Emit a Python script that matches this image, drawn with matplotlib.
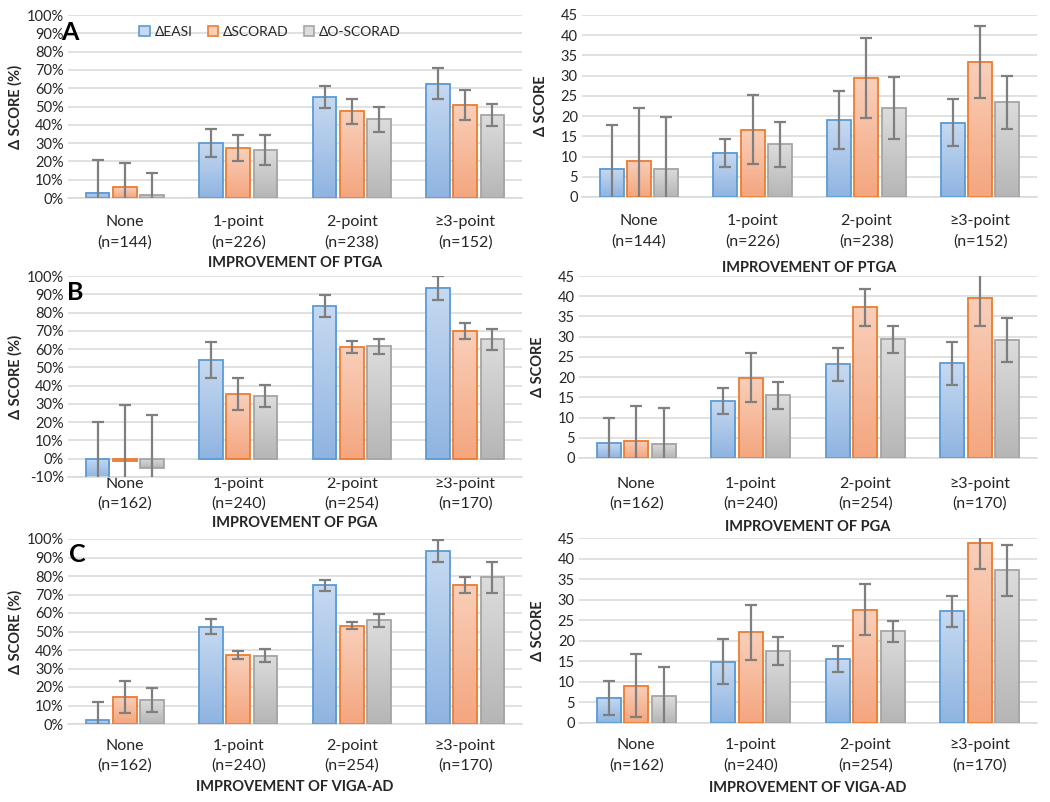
import numpy as np
import matplotlib
matplotlib.use("Agg")
import matplotlib.pyplot as plt
from matplotlib.patches import Patch
from matplotlib.colors import LinearSegmentedColormap

plt.rcParams['font.family'] = ['Lato', 'DejaVu Sans']

# ---- data ----
categories = ["None", "1-point", "2-point", "\u22653-point"]
n_ptga = [144, 226, 238, 152]
n_pga = [162, 240, 254, 170]
n_viga = [162, 240, 254, 170]
series_names = ["\u0394EASI", "\u0394SCORAD", "\u0394O-SCORAD"]

# A: PTGA, percent change
a_pct_easi = [3.0, 30.0, 55.0, 62.5]
a_pct_easi_err = [17.5, 7.8, 6.0, 8.5]
a_pct_scorad = [6.0, 27.2, 47.4, 50.9]
a_pct_scorad_err = [13.0, 7.2, 6.8, 8.2]
a_pct_oscorad = [1.8, 26.1, 42.9, 45.3]
a_pct_oscorad_err = [12.1, 8.1, 6.7, 5.9]

# A: PTGA, absolute change
a_abs_easi = [7.0, 10.9, 19.0, 18.4]
a_abs_easi_err = [10.7, 3.4, 7.2, 5.8]
a_abs_scorad = [9.0, 16.6, 29.4, 33.4]
a_abs_scorad_err = [12.9, 8.5, 9.8, 8.9]
a_abs_oscorad = [7.0, 13.0, 22.0, 23.4]
a_abs_oscorad_err = [12.7, 5.5, 7.6, 6.5]

# B: PGA, percent change
b_pct_easi = [-10.3, 53.9, 83.4, 93.6]
b_pct_easi_err = [30.5, 9.8, 6.0, 6.5]
b_pct_scorad = [-1.5, 35.3, 61.2, 69.8]
b_pct_scorad_err = [30.8, 8.8, 3.2, 4.3]
b_pct_oscorad = [-5.1, 34.4, 61.6, 65.4]
b_pct_oscorad_err = [29.3, 6.0, 4.1, 5.8]

# B: PGA, absolute change
b_abs_easi = [3.7, 14.0, 23.2, 23.4]
b_abs_easi_err = [6.3, 3.2, 4.1, 5.3]
b_abs_scorad = [4.3, 19.9, 37.3, 39.6]
b_abs_scorad_err = [8.5, 6.1, 4.6, 7.0]
b_abs_oscorad = [3.5, 15.5, 29.3, 29.2]
b_abs_oscorad_err = [8.8, 3.3, 3.3, 5.4]

# C: vIGA-AD, percent change
c_pct_easi = [2.0, 52.7, 75.1, 93.5]
c_pct_easi_err = [9.9, 4.2, 3.0, 5.7]
c_pct_scorad = [14.6, 37.2, 53.1, 75.3]
c_pct_scorad_err = [8.7, 2.3, 2.0, 4.4]
c_pct_oscorad = [13.0, 37.0, 56.0, 79.2]
c_pct_oscorad_err = [6.3, 3.6, 3.7, 8.4]

# C: vIGA-AD, absolute change
c_abs_easi = [6.1, 14.9, 15.5, 27.2]
c_abs_easi_err = [4.1, 5.5, 3.2, 3.8]
c_abs_scorad = [9.1, 22.1, 27.6, 43.9]
c_abs_scorad_err = [7.7, 6.7, 6.1, 6.5]
c_abs_oscorad = [6.5, 17.4, 22.3, 37.1]
c_abs_oscorad_err = [7.2, 3.4, 2.6, 6.3]

# ---- style ----
EDGE = ["#5b9bd5", "#ed7d31", "#a5a5a5"]
GRAD = [("#8fb4e1", "#c6d9f1"), ("#f4a67f", "#f9cfba"), ("#b6b6b6", "#dcdcdc")]
GRID = "#d9d9d9"
ERR = "#7f7f7f"
TXT = "#262626"

W, H = 1050.0, 802.0


def draw_panel(ax, values, errs, counts, ylim, step, pct, tick_pad,
               xlabel, xlabel_y, ylabel, ylabel_x):
    x = np.arange(len(categories))
    width = 0.21
    offsets = [-0.24, 0.0, 0.24]
    grad = np.linspace(0, 1, 64).reshape(-1, 1)
    for i in range(3):
        cmap = LinearSegmentedColormap.from_list("g%d" % i, GRAD[i])
        bars = ax.bar(x + offsets[i], values[i], width, facecolor="none",
                      edgecolor=EDGE[i], linewidth=1.3, zorder=3)
        # vertical gradient fill, lighter toward the top of each bar
        for b in bars:
            x0, y0 = b.get_x(), b.get_y()
            x1, y1 = x0 + b.get_width(), y0 + b.get_height()
            ax.imshow(grad, cmap=cmap, origin="lower", aspect="auto",
                      extent=[x0, x1, min(y0, y1), max(y0, y1)], zorder=2)
        ax.errorbar(x + offsets[i], values[i], yerr=errs[i], fmt="none",
                    ecolor=ERR, elinewidth=1.6, capsize=4.5, capthick=1.6, zorder=4)

    ax.set_xlim(-0.5, len(categories) - 0.5)
    ax.set_ylim(*ylim)
    ticks = np.arange(ylim[0], ylim[1] + step / 2, step)
    ax.set_yticks(ticks)
    if pct:
        ax.set_yticklabels(["%d%%" % t for t in ticks])
    else:
        ax.set_yticklabels(["%d" % t for t in ticks])
    ax.set_xticks(x)
    ax.set_xticklabels(["%s\n(n=%d)" % (c, n) for c, n in zip(categories, counts)],
                       fontsize=11.5, linespacing=1.5)
    ax.tick_params(axis="both", length=0, colors=TXT)
    ax.tick_params(axis="y", labelsize=10.5, pad=3)
    ax.tick_params(axis="x", pad=tick_pad)
    ax.grid(axis="y", color=GRID, linewidth=1.1, zorder=0)
    ax.set_axisbelow(True)
    for s in ["top", "right", "left"]:
        ax.spines[s].set_visible(False)
    ax.spines["bottom"].set_color(GRID)
    ax.spines["bottom"].set_linewidth(1.1)

    # axis labels placed at measured pixel rows / columns
    bbox = ax.get_position()
    bottom_px = (1 - bbox.y0) * H
    height_px = bbox.height * H
    ax.set_xlabel(xlabel, fontsize=10.5, fontweight="bold", color=TXT, va="center")
    ax.xaxis.set_label_coords(0.5, (bottom_px - xlabel_y) / height_px)
    ax.set_ylabel(ylabel, fontsize=10.5, fontweight="bold", color=TXT)
    ax.yaxis.set_label_coords(ylabel_x, 0.5)


fig = plt.figure(figsize=(10.5, 8.02), dpi=100)


def add_axes(left, right, top, bottom):
    return fig.add_axes([left / W, 1 - bottom / H, (right - left) / W, (bottom - top) / H])


ax_a1 = add_axes(68, 522, 15, 198)
ax_a2 = add_axes(582, 1037, 15, 197)
ax_b1 = add_axes(68, 522, 276, 477)
ax_b2 = add_axes(579, 1037, 276, 458)
ax_c1 = add_axes(68, 522, 539, 724)
ax_c2 = add_axes(579, 1037, 538, 723)

draw_panel(ax_a1, [a_pct_easi, a_pct_scorad, a_pct_oscorad],
           [a_pct_easi_err, a_pct_scorad_err, a_pct_oscorad_err],
           n_ptga, (0, 100), 10, True, 12.5,
           "IMPROVEMENT OF PTGA", 263, "\u0394 SCORE (%)", -0.10)
draw_panel(ax_a2, [a_abs_easi, a_abs_scorad, a_abs_oscorad],
           [a_abs_easi_err, a_abs_scorad_err, a_abs_oscorad_err],
           n_ptga, (0, 45), 5, False, 12.5,
           "IMPROVEMENT OF PTGA", 268, "\u0394 SCORE", -0.075)
draw_panel(ax_b1, [b_pct_easi, b_pct_scorad, b_pct_oscorad],
           [b_pct_easi_err, b_pct_scorad_err, b_pct_oscorad_err],
           n_pga, (-10, 100), 10, True, 0,
           "IMPROVEMENT OF PGA", 523, "\u0394 SCORE (%)", -0.10)
draw_panel(ax_b2, [b_abs_easi, b_abs_scorad, b_abs_oscorad],
           [b_abs_easi_err, b_abs_scorad_err, b_abs_oscorad_err],
           n_pga, (0, 45), 5, False, 13.5,
           "IMPROVEMENT OF PGA", 527, "\u0394 SCORE", -0.075)
draw_panel(ax_c1, [c_pct_easi, c_pct_scorad, c_pct_oscorad],
           [c_pct_easi_err, c_pct_scorad_err, c_pct_oscorad_err],
           n_viga, (0, 100), 10, True, 10.5,
           "IMPROVEMENT OF VIGA-AD", 787, "\u0394 SCORE (%)", -0.10)
draw_panel(ax_c2, [c_abs_easi, c_abs_scorad, c_abs_oscorad],
           [c_abs_easi_err, c_abs_scorad_err, c_abs_oscorad_err],
           n_viga, (0, 45), 5, False, 11,
           "IMPROVEMENT OF VIGA-AD", 788, "\u0394 SCORE", -0.075)

# legend in panel A
handles = [Patch(facecolor=GRAD[i][1], edgecolor=EDGE[i], linewidth=1.2, label=series_names[i])
           for i in range(3)]
ax_a1.legend(handles=handles, loc="center", bbox_to_anchor=(0.445, 0.908), ncol=3,
             frameon=False, fontsize=10, handlelength=0.75, handleheight=0.75,
             handletextpad=0.35, columnspacing=1.1, labelcolor=TXT)

# panel letters
for letter, (px, py) in zip("ABC", [(70, 32), (75, 293), (77, 555)]):
    fig.text(px / W, 1 - py / H, letter, fontsize=18, fontweight="bold",
             ha="center", va="center", color="black")

fig.savefig("out.png", dpi=100)
